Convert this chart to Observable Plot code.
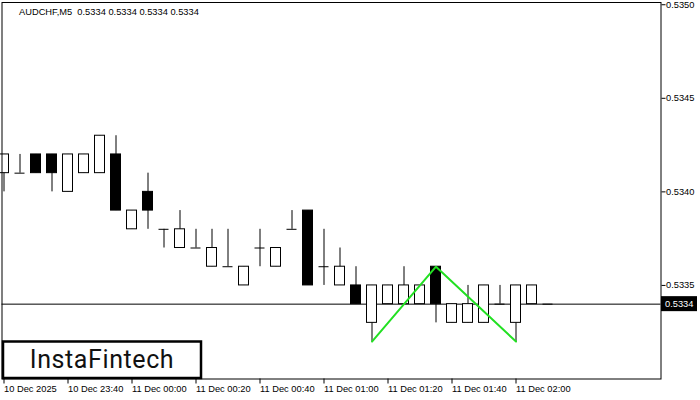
<!DOCTYPE html>
<html>
<head>
<meta charset="utf-8">
<script src="https://cdn.jsdelivr.net/npm/d3@7"></script>
<script src="https://cdn.jsdelivr.net/npm/@observablehq/plot@0.6"></script>
<style>
  html, body { margin: 0; padding: 0; background: #fff; }
  #chart svg { display: block; }
</style>
</head>
<body>
<div id="chart"></div>
<script>
// ---- data ----
const symbol = "AUDCHF,M5";
const quote = [0.5334, 0.5334, 0.5334, 0.5334];
const times = [
  "2025-12-10T23:20", "2025-12-10T23:25", "2025-12-10T23:30", "2025-12-10T23:35",
  "2025-12-10T23:40", "2025-12-10T23:45", "2025-12-10T23:50", "2025-12-10T23:55",
  "2025-12-11T00:00", "2025-12-11T00:05", "2025-12-11T00:10", "2025-12-11T00:15",
  "2025-12-11T00:20", "2025-12-11T00:25", "2025-12-11T00:30", "2025-12-11T00:35",
  "2025-12-11T00:40", "2025-12-11T00:45", "2025-12-11T00:50", "2025-12-11T00:55",
  "2025-12-11T01:00", "2025-12-11T01:05", "2025-12-11T01:10", "2025-12-11T01:15",
  "2025-12-11T01:20", "2025-12-11T01:25", "2025-12-11T01:30", "2025-12-11T01:35",
  "2025-12-11T01:40", "2025-12-11T01:45", "2025-12-11T01:50", "2025-12-11T01:55",
  "2025-12-11T02:00", "2025-12-11T02:05", "2025-12-11T02:10"
];
const opens  = [0.5341,0.5341,0.5342,0.5342,0.5340,0.5341,0.5341,0.5342,0.5338,0.5340,0.5338,0.5337,0.5337,0.5336,0.5336,0.5335,0.5337,0.5336,0.5338,0.5339,0.5336,0.5335,0.5335,0.5333,0.5334,0.5334,0.5334,0.5336,0.5333,0.5333,0.5333,0.5334,0.5333,0.5334,0.5334];
const highs  = [0.5342,0.5342,0.5342,0.5342,0.5342,0.5342,0.5343,0.5343,0.5339,0.5341,0.5338,0.5339,0.5338,0.5338,0.5338,0.5336,0.5338,0.5337,0.5339,0.5339,0.5338,0.5337,0.5336,0.5335,0.5335,0.5336,0.5335,0.5336,0.5334,0.5335,0.5335,0.5335,0.5335,0.5335,0.5334];
const lows   = [0.5340,0.5341,0.5341,0.5340,0.5340,0.5341,0.5341,0.5339,0.5338,0.5338,0.5337,0.5337,0.5337,0.5336,0.5336,0.5335,0.5336,0.5336,0.5338,0.5335,0.5335,0.5335,0.5334,0.5332,0.5334,0.5334,0.5334,0.5333,0.5333,0.5333,0.5333,0.5334,0.5332,0.5334,0.5334];
const closes = [0.5342,0.5341,0.5341,0.5341,0.5342,0.5342,0.5343,0.5339,0.5339,0.5339,0.5338,0.5338,0.5337,0.5337,0.5336,0.5336,0.5337,0.5337,0.5338,0.5335,0.5336,0.5336,0.5334,0.5335,0.5335,0.5335,0.5335,0.5334,0.5334,0.5334,0.5335,0.5334,0.5335,0.5335,0.5334];

const patternTimes  = ["2025-12-11T01:15", "2025-12-11T01:35", "2025-12-11T02:00"];
const patternPrices = [0.5332, 0.5336, 0.5332];

const bidPrice = 0.5334;
const priceTicks = [0.5335, 0.5340, 0.5345, 0.5350];
const timeTicks = [
  "2025-12-10T23:20", "2025-12-10T23:40", "2025-12-11T00:00", "2025-12-11T00:20",
  "2025-12-11T00:40", "2025-12-11T01:00", "2025-12-11T01:20", "2025-12-11T01:40",
  "2025-12-11T02:00"
];
const timeTickLabels = [
  "10 Dec 2025", "10 Dec 23:40", "11 Dec 00:00", "11 Dec 00:20",
  "11 Dec 00:40", "11 Dec 01:00", "11 Dec 01:20", "11 Dec 01:40",
  "11 Dec 02:00"
];
const brand = "InstaFintech";

// ---- build ----
const utc = s => new Date(s + ":00Z");
const candles = times.map((t, i) => ({
  date: utc(t), open: opens[i], high: highs[i], low: lows[i], close: closes[i]
}));
const bull = candles.filter(d => d.close > d.open);
const bear = candles.filter(d => d.close < d.open);
const doji = candles.filter(d => d.close === d.open);
const pattern = patternTimes.map((t, i) => ({date: utc(t), price: patternPrices[i]}));
const tickDates = timeTicks.map(utc);
const tickLabel = new Map(tickDates.map((d, i) => [+d, timeTickLabels[i]]));

const BAR = 5 * 60000;          // one M5 bar
const HALF_BODY = BAR * 5 / 16; // body half-width (bar slot 16px, body 10px)
const t0 = +candles[0].date;

const font = "'Liberation Sans', Arial, sans-serif";

const plot = Plot.plot({
  width: 700,
  height: 400,
  marginLeft: 1.5,
  marginRight: 39.5,
  marginTop: 2,
  marginBottom: 21.5,
  style: {fontFamily: font, fontSize: "9.3px", color: "#000", background: "#fff"},
  x: {type: "utc", domain: [new Date(t0 - BAR * 2 / 16), new Date(t0 + BAR * 657 / 16)]},
  y: {domain: [0.5330, 0.535012]},
  marks: [
    Plot.ruleY([bidPrice], {stroke: "#000", strokeWidth: 1}),
    Plot.ruleX(candles, {x: "date", y1: "low", y2: "high", stroke: "#000", strokeWidth: 1}),
    Plot.rect(bull, {
      x1: d => new Date(+d.date - HALF_BODY), x2: d => new Date(+d.date + HALF_BODY),
      y1: "open", y2: "close", fill: "#fff", stroke: "#000", strokeWidth: 1
    }),
    Plot.rect(bear, {
      x1: d => new Date(+d.date - HALF_BODY), x2: d => new Date(+d.date + HALF_BODY),
      y1: "open", y2: "close", fill: "#000", stroke: "#000", strokeWidth: 1
    }),
    Plot.ruleY(doji, {
      y: "close",
      x1: d => new Date(+d.date - HALF_BODY), x2: d => new Date(+d.date + HALF_BODY),
      stroke: "#000", strokeWidth: 1
    }),
    Plot.line(pattern, {x: "date", y: "price", stroke: "#22e022", strokeWidth: 2}),
    Plot.frame({stroke: "#000", strokeWidth: 1}),
    Plot.axisY(priceTicks, {
      anchor: "right", tickSize: 4, tickPadding: 1,
      tickFormat: d3.format(".4f"), fontSize: 9.3, textAnchor: "start"
    }),
    Plot.axisX(tickDates, {
      anchor: "bottom", tickSize: 5, tickPadding: 1.5,
      tickFormat: d => tickLabel.get(+d), textAnchor: "start", dx: 0, fontSize: 9.3
    })
  ]
});

document.getElementById("chart").append(plot);

// ---- overlays: title, bid price tag, brand box ----
const svg = d3.select(plot);
const y = plot.scale("y");
const by = y.apply(bidPrice);

svg.append("text")
  .attr("x", 19).attr("y", 14.5).attr("text-anchor", "start")
  .attr("font-family", font).attr("font-size", 9.3).attr("fill", "#000")
  .attr("xml:space", "preserve")
  .text(symbol + "  " + quote.map(d3.format(".4f")).join(" "));

svg.append("rect")
  .attr("x", 661).attr("y", by - 7.5).attr("width", 36).attr("height", 15)
  .attr("fill", "#000");
svg.append("text")
  .attr("x", 665).attr("y", by).attr("dy", "0.35em").attr("text-anchor", "start")
  .attr("font-family", font).attr("font-size", 9.3).attr("fill", "#fff")
  .text(d3.format(".4f")(bidPrice));

svg.append("rect")
  .attr("x", 3).attr("y", 341.5).attr("width", 198).attr("height", 36.5)
  .attr("fill", "#fff").attr("stroke", "#000").attr("stroke-width", 2.5);
svg.append("text")
  .attr("x", 102).attr("y", 367.5).attr("text-anchor", "middle")
  .attr("font-family", "Roboto, 'Open Sans', sans-serif").attr("font-weight", 400)
  .attr("letter-spacing", 0.6)
  .attr("font-size", 25).attr("fill", "#111")
  .text(brand);
</script>
</body>
</html>
